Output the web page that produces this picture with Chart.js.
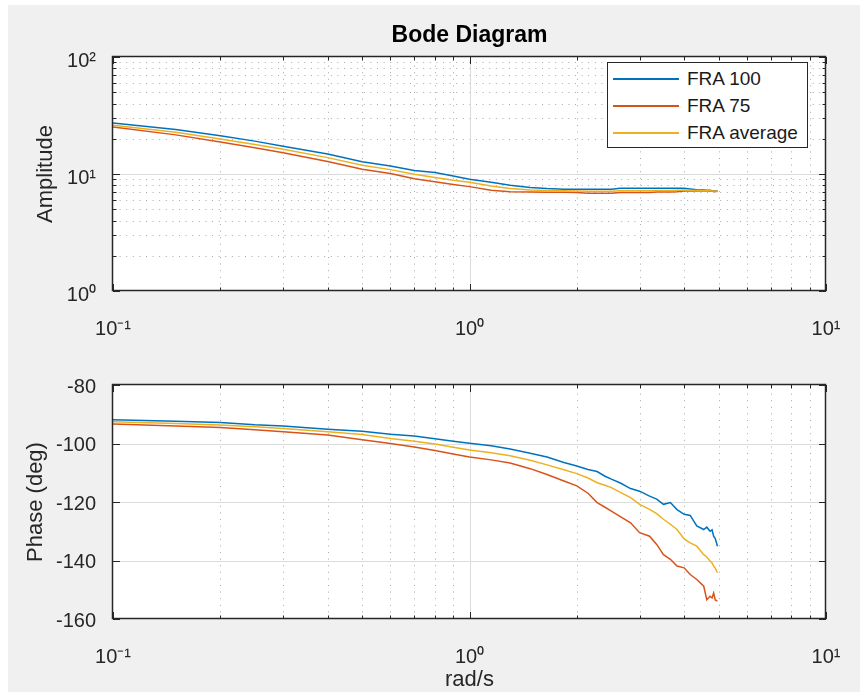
<!doctype html>
<html lang="en">
  <head>
    <meta charset="utf-8">
    <title>Bode Diagram</title>
    <style>
      body { margin: 0; background: #fff; width: 860px; height: 692px; position: relative; overflow: hidden; }
      #bg { position: absolute; left: 8px; top: 5px; width: 852px; height: 687px; background: #f0f0f0; }
      canvas { position: absolute; left: 0; }
      #ampChart { top: 0; }
      #phaseChart { top: 346px; }
      #legend {
        position: absolute; left: 607px; top: 62px; width: 201px; height: 86px;
        box-sizing: border-box; border: 1px solid #262626; background: #fff;
        padding-top: 2.5px; font: 19px 'Liberation Sans', Arial, sans-serif; color: #1a1a1a;
      }
      #legend .row { height: 27px; display: flex; align-items: center; }
      #legend .swatch { width: 66px; height: 1.5px; margin-left: 5px; margin-right: 8px; }
    </style>
  </head>
  <body>
    <div id="bg"></div>
    <canvas id="ampChart" width="860" height="346"></canvas>
    <canvas id="phaseChart" width="860" height="346"></canvas>
    <div id="legend"></div>

    <script src="https://cdn.jsdelivr.net/npm/chart.js"></script>
    <script>
      // frequency (rad/s) and measured responses
      const freq = [0.1, 0.15, 0.2, 0.25, 0.3, 0.4, 0.5, 0.6, 0.7, 0.8,
                    0.9, 1.0, 1.15, 1.3, 1.48, 1.65, 1.84, 2.0, 2.15, 2.28,
                    2.4, 2.5, 2.65, 2.83, 3.0, 3.2, 3.35, 3.5, 3.66, 3.82,
                    4.0, 4.16, 4.34, 4.54, 4.63, 4.73, 4.79, 4.84, 4.89, 4.96];

      const amp_fra100 = [27.3, 24.0, 21.2, 19.1, 17.3, 14.8, 12.7, 11.7, 10.7, 10.3,
                          9.6, 9.0, 8.5, 8.0, 7.65, 7.5, 7.42, 7.42, 7.42, 7.42,
                          7.42, 7.42, 7.55, 7.55, 7.55, 7.55, 7.55, 7.55, 7.55, 7.55,
                          7.55, 7.45, 7.35, 7.3, 7.25, 7.25, 7.2, 7.2, 7.2, 7.2];
      const amp_fra75 = [25.2, 21.6, 18.8, 16.8, 15.2, 12.8, 11.0, 10.1, 9.1, 8.6,
                         8.15, 7.8, 7.25, 7.05, 7.0, 6.98, 6.98, 6.95, 6.85, 6.85,
                         6.85, 6.85, 6.95, 6.95, 6.95, 6.95, 7.0, 7.0, 7.0, 7.05,
                         7.15, 7.15, 7.15, 7.15, 7.15, 7.12, 7.12, 7.1, 7.1, 7.1];
      const amp_avg = [26.1, 22.7, 19.95, 17.9, 16.3, 13.8, 11.9, 10.9, 9.97, 9.35,
                       8.85, 8.5, 7.9, 7.5, 7.3, 7.22, 7.18, 7.15, 7.12, 7.12,
                       7.12, 7.12, 7.2, 7.2, 7.2, 7.2, 7.22, 7.22, 7.22, 7.25,
                       7.3, 7.28, 7.22, 7.2, 7.18, 7.18, 7.15, 7.15, 7.15, 7.15];

      const phase_fra100 = [-91.9, -92.4, -92.8, -93.6, -94.0, -95.1, -95.8, -96.8, -97.4, -98.4,
                            -99.2, -99.9, -100.8, -101.9, -103.3, -104.6, -106.5, -107.7, -108.9, -109.6,
                            -111.2, -112.2, -113.5, -115.4, -116.3, -118.0, -119.0, -120.8, -120.2, -122.6,
                            -124.2, -124.6, -128.2, -129.4, -128.6, -130.0, -129.5, -131.7, -132.5, -135.1];
      const phase_fra75 = [-93.3, -94.0, -94.5, -95.3, -96.0, -97.1, -98.7, -100.0, -101.2, -102.4,
                           -103.6, -104.6, -105.6, -106.7, -108.6, -110.6, -112.8, -114.5, -117.0, -120.2,
                           -121.8, -123.1, -125.0, -127.1, -130.5, -131.7, -134.5, -138.0, -139.6, -141.9,
                           -142.5, -144.8, -146.5, -148.8, -153.4, -152.2, -152.8, -151.1, -153.5, -153.9];
      const phase_avg = [-92.6, -93.2, -93.7, -94.3, -94.9, -96.0, -96.9, -98.3, -99.2, -100.2,
                         -101.3, -102.2, -103.2, -104.2, -105.7, -107.3, -109.0, -110.3, -111.8, -113.4,
                         -114.3, -115.1, -116.7, -118.5, -120.8, -122.5, -124.0, -125.9, -127.6, -129.4,
                         -132.6, -134.0, -135.1, -138.0, -138.8, -140.2, -140.8, -141.9, -142.6, -144.2];

      const series_names = ['FRA 100', 'FRA 75', 'FRA average'];
      const series_colors = ['#0072bd', '#d95319', '#edb120'];

      const x_tick_values = [0.1, 1, 10];
      const x_tick_labels = ['10⁻¹', '10⁰', '10¹'];
      const amp_tick_values = [1, 10, 100];
      const amp_tick_labels = ['10⁰', '10¹', '10²'];
      const phase_tick_values = [-160, -140, -120, -100, -80];

      Chart.defaults.font.family = "'Liberation Sans', Arial, Helvetica, sans-serif";
      const axisColor = '#262626';

      function logMinor(lo, hi) {
        const out = [];
        for (let d = lo; d < hi * 0.999; d *= 10) {
          for (let k = 2; k <= 9; k++) out.push(d * k);
        }
        return out;
      }

      function toPoints(ys) {
        return freq.map((f, i) => ({x: f, y: ys[i]}));
      }

      function makeDatasets(lists) {
        return lists.map((ys, i) => ({
          label: series_names[i],
          data: toPoints(ys),
          borderColor: series_colors[i],
          backgroundColor: series_colors[i],
          borderWidth: 1.5,
          pointRadius: 0,
          tension: 0,
          order: 3 - i
        }));
      }

      // matlab style axes: white box, solid major grid, dotted minor grid, inward ticks
      function axesPlugin(cfg) {
        const snap = p => Math.round(p) + 0.5;
        return {
          id: 'matlabAxes',
          beforeDraw(chart) {
            const {ctx, chartArea: a} = chart;
            ctx.save();
            ctx.fillStyle = '#fff';
            ctx.fillRect(a.left, a.top, a.right - a.left, a.bottom - a.top);
            ctx.restore();
          },
          beforeDatasetsDraw(chart) {
            const {ctx, chartArea: a, scales: {x, y}} = chart;
            ctx.save();
            ctx.lineWidth = 1;
            ctx.strokeStyle = '#a8a8a8';
            ctx.setLineDash([1, 5.6]);
            cfg.xMinor.forEach(v => {
              const px = snap(x.getPixelForValue(v));
              ctx.beginPath(); ctx.moveTo(px, a.bottom); ctx.lineTo(px, a.top); ctx.stroke();
            });
            cfg.yMinor.forEach(v => {
              const py = snap(y.getPixelForValue(v));
              ctx.beginPath(); ctx.moveTo(a.left, py); ctx.lineTo(a.right, py); ctx.stroke();
            });
            ctx.setLineDash([]);
            ctx.strokeStyle = '#dcdcdc';
            cfg.xMajor.forEach(v => {
              const px = snap(x.getPixelForValue(v));
              if (px <= a.left + 1 || px >= a.right - 1) return;
              ctx.beginPath(); ctx.moveTo(px, a.bottom); ctx.lineTo(px, a.top); ctx.stroke();
            });
            cfg.yMajor.forEach(v => {
              const py = snap(y.getPixelForValue(v));
              if (py <= a.top + 1 || py >= a.bottom - 1) return;
              ctx.beginPath(); ctx.moveTo(a.left, py); ctx.lineTo(a.right, py); ctx.stroke();
            });
            ctx.restore();
          },
          afterDatasetsDraw(chart) {
            const {ctx, chartArea: a, scales: {x, y}} = chart;
            ctx.save();
            ctx.strokeStyle = axisColor;
            ctx.lineWidth = 1;
            const xt = (v, len) => {
              const px = snap(x.getPixelForValue(v));
              ctx.beginPath();
              ctx.moveTo(px, a.bottom); ctx.lineTo(px, a.bottom - len);
              ctx.moveTo(px, a.top); ctx.lineTo(px, a.top + len);
              ctx.stroke();
            };
            const yt = (v, len) => {
              const py = snap(y.getPixelForValue(v));
              ctx.beginPath();
              ctx.moveTo(a.left, py); ctx.lineTo(a.left + len, py);
              ctx.moveTo(a.right, py); ctx.lineTo(a.right - len, py);
              ctx.stroke();
            };
            cfg.xMajor.forEach(v => xt(v, 7));
            cfg.xMinor.forEach(v => xt(v, 3.5));
            cfg.yMajor.forEach(v => yt(v, 7));
            cfg.yMinor.forEach(v => yt(v, 3.5));
            ctx.lineWidth = 1.5;
            ctx.strokeRect(a.left - 0.5, a.top - 0.5, a.right - a.left, a.bottom - a.top);
            ctx.restore();
          }
        };
      }

      const tickFont = {size: 20};
      const labelFont = {size: 22};

      const ampChart = new Chart(document.getElementById('ampChart'), {
        type: 'line',
        data: { datasets: makeDatasets([amp_fra100, amp_fra75, amp_avg]) },
        options: {
          responsive: false,
          animation: false,
          layout: { padding: { left: 0, right: 34, top: 0, bottom: 0 } },
          plugins: {
            legend: { display: false },
            tooltip: { enabled: false },
            title: {
              display: true, text: 'Bode Diagram', fullSize: false, color: '#000',
              font: { size: 23, weight: 'bold' }, padding: { top: 22, bottom: 7.4 }
            }
          },
          scales: {
            x: {
              type: 'logarithmic', min: 0.1, max: 10,
              grid: { display: false }, border: { display: false },
              afterBuildTicks: s => { s.ticks = x_tick_values.map(v => ({value: v})); },
              afterFit: s => { s.height = 55; s.paddingLeft = 0; s.paddingRight = 0; },
              ticks: { callback: (v, i) => x_tick_labels[i], autoSkip: false, maxRotation: 0,
                       padding: 18, color: axisColor, font: tickFont }
            },
            y: {
              type: 'logarithmic', min: 1, max: 100,
              grid: { display: false }, border: { display: false },
              afterBuildTicks: s => { s.ticks = amp_tick_values.map(v => ({value: v})); },
              afterFit: s => { s.width = 113; s.paddingTop = 0; s.paddingBottom = 0; },
              ticks: { callback: (v, i) => amp_tick_labels[i], padding: 9, labelOffset: 4,
                       color: axisColor, font: tickFont },
              title: { display: true, text: 'Amplitude', color: axisColor, font: labelFont,
                       padding: { top: 33, bottom: 0 } }
            }
          }
        },
        plugins: [axesPlugin({
          xMajor: x_tick_values, xMinor: logMinor(0.1, 10),
          yMajor: amp_tick_values, yMinor: logMinor(1, 100)
        })]
      });

      const phaseChart = new Chart(document.getElementById('phaseChart'), {
        type: 'line',
        data: { datasets: makeDatasets([phase_fra100, phase_fra75, phase_avg]) },
        options: {
          responsive: false,
          animation: false,
          layout: { padding: { left: 0, right: 34, top: 39, bottom: 0 } },
          plugins: {
            legend: { display: false },
            tooltip: { enabled: false }
          },
          scales: {
            x: {
              type: 'logarithmic', min: 0.1, max: 10,
              grid: { display: false }, border: { display: false },
              afterBuildTicks: s => { s.ticks = x_tick_values.map(v => ({value: v})); },
              afterFit: s => { s.height = 73; s.paddingLeft = 0; s.paddingRight = 0; },
              ticks: { callback: (v, i) => x_tick_labels[i], autoSkip: false, maxRotation: 0,
                       padding: 18, color: axisColor, font: tickFont },
              title: { display: true, text: 'rad/s', color: axisColor, font: labelFont,
                       padding: { top: 0, bottom: -1 } }
            },
            y: {
              type: 'linear', min: -160, max: -80,
              grid: { display: false }, border: { display: false },
              afterBuildTicks: s => { s.ticks = phase_tick_values.map(v => ({value: v})); },
              afterFit: s => { s.width = 113; s.paddingTop = 0; s.paddingBottom = 0; },
              ticks: { callback: v => String(v), padding: 9, labelOffset: 2,
                       color: axisColor, font: tickFont },
              title: { display: true, text: 'Phase (deg)', color: axisColor, font: labelFont,
                       padding: { top: 23, bottom: 0 } }
            }
          }
        },
        plugins: [axesPlugin({
          xMajor: x_tick_values, xMinor: logMinor(0.1, 10),
          yMajor: phase_tick_values, yMinor: []
        })]
      });

      // legend box inside the amplitude axes
      const legendEl = document.getElementById('legend');
      ampChart.data.datasets.forEach(ds => {
        const row = document.createElement('div');
        row.className = 'row';
        const sw = document.createElement('span');
        sw.className = 'swatch';
        sw.style.background = ds.borderColor;
        const txt = document.createElement('span');
        txt.textContent = ds.label;
        row.append(sw, txt);
        legendEl.append(row);
      });
    </script>
  </body>
</html>
